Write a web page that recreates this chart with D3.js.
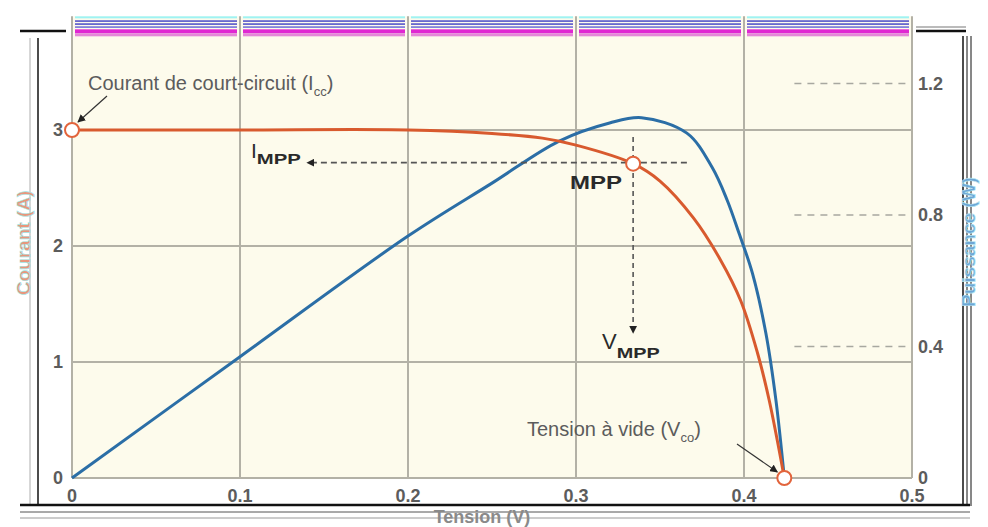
<!DOCTYPE html>
<html>
<head>
<meta charset="UTF-8">
<title>Courbe I-V et P-V</title>
<script src="https://cdn.jsdelivr.net/npm/d3@7"></script>
<style>
  body { margin: 0; background: #fff; }
  text { font-family: "Liberation Sans", Arial, Helvetica, sans-serif; }
</style>
</head>
<body>
<svg id="chart" width="988" height="527"></svg>
<script>
// tension (V) et courant (A)
var tensionI = [0, 0.1, 0.2, 0.25, 0.28, 0.3, 0.334, 0.35, 0.37, 0.386, 0.398, 0.408, 0.415, 0.424];
var courant  = [3.0, 3.0, 3.0, 2.97, 2.93, 2.87, 2.71, 2.56, 2.24, 1.88, 1.53, 1.08, 0.67, 0];

// tension (V) et puissance (W)
var tensionP  = [0, 0.1, 0.2, 0.25, 0.29, 0.32, 0.339, 0.366, 0.381, 0.39, 0.397, 0.405, 0.413, 0.419, 0.424];
var puissance = [0, 0.369, 0.736, 0.897, 1.025, 1.080, 1.096, 1.049, 0.945, 0.845, 0.745, 0.623, 0.441, 0.237, 0];

var ticksV = [0, 0.1, 0.2, 0.3, 0.4, 0.5];
var ticksI = [0, 1, 2, 3];
var ticksP = [0, 0.4, 0.8, 1.2];

// points remarquables
var icc = {v: 0, i: 3.0};
var mpp = {v: 0.334, i: 2.71};
var vco = {v: 0.424, i: 0};

var svg = d3.select("#chart");

var x = d3.scaleLinear().domain([0, 0.5]).range([72, 912]);
var yI = d3.scaleLinear().domain([0, 4]).range([478, 14]);
var yP = d3.scaleLinear().domain([0, 1.2]).range([478, 83.5]);

var gridColor = "#b3b1a6";
var orange = "#d85a2e";
var bleu = "#2b6ea6";
var gris = "#5c5c5c";

// fond
svg.append("rect")
  .attr("x", x(0)).attr("y", yI(3.98))
  .attr("width", x(0.5) - x(0)).attr("height", yI(0) - yI(3.98))
  .attr("fill", "#fdfbec");

// bandes parasites en haut (artefacts de l'image)
var bandes = [
  {dy: 0, h: 2, c: "#9ef3f3"},
  {dy: 4, h: 1.5, c: "#4a4ac8"},
  {dy: 7, h: 1.5, c: "#4a4ac8"},
  {dy: 10, h: 1.5, c: "#6a6ad8"},
  {dy: 13, h: 4, c: "#e027d2"},
  {dy: 17, h: 3, c: "#e487d8"}
];
var top0 = yI(3.98);
d3.pairs(ticksV).forEach(function(p) {
  bandes.forEach(function(b) {
    svg.append("rect")
      .attr("x", x(p[0]) + 3).attr("y", top0 + b.dy)
      .attr("width", x(p[1]) - x(p[0]) - 6).attr("height", b.h)
      .attr("fill", b.c);
  });
});

// cadre noir (artefacts)
var cadre = svg.append("g").attr("stroke", "#111").attr("fill", "none");
cadre.append("path").attr("d", "M20,31H66").attr("stroke-width", 2.5);
cadre.append("path").attr("d", "M916,31H966").attr("stroke-width", 2.5);
cadre.append("path").attr("d", "M916,27H966").attr("stroke-width", 1).attr("stroke", "#777");
cadre.append("path").attr("d", "M38,38V506").attr("stroke-width", 1.5);
cadre.append("path").attr("d", "M30,38V506").attr("stroke-width", 0.8).attr("stroke", "#999");
cadre.append("path").attr("d", "M963,36V506").attr("stroke-width", 1.5);
cadre.append("path").attr("d", "M967,36V506").attr("stroke-width", 1);
cadre.append("path").attr("d", "M971,36V506").attr("stroke-width", 1);
cadre.append("path").attr("d", "M20,505H970").attr("stroke-width", 2.5);
cadre.append("path").attr("d", "M20,512H970").attr("stroke-width", 1).attr("stroke", "#555");
cadre.append("path").attr("d", "M20,518H970").attr("stroke-width", 1).attr("stroke", "#999");

// grille
var grid = svg.append("g").attr("stroke", gridColor).attr("stroke-width", 2);
ticksV.forEach(function(t) {
  grid.append("line")
    .attr("x1", x(t)).attr("x2", x(t))
    .attr("y1", yI(3.98)).attr("y2", yI(0));
});
ticksI.forEach(function(t) {
  grid.append("line")
    .attr("x1", x(0)).attr("x2", x(0.5))
    .attr("y1", yI(t)).attr("y2", yI(t));
});

// graduations pointillées de la puissance
ticksP.filter(function(t) { return t > 0; }).forEach(function(t) {
  svg.append("line")
    .attr("x1", x(0.43)).attr("x2", x(0.5) - 4)
    .attr("y1", yP(t)).attr("y2", yP(t))
    .attr("stroke", "#a8a8a0").attr("stroke-width", 1.5)
    .attr("stroke-dasharray", "7,6");
});

// étiquettes des axes
var lab = svg.append("g").attr("fill", gris).attr("font-size", 18).attr("font-weight", "bold");
ticksI.forEach(function(t) {
  lab.append("text").attr("x", x(0) - 9).attr("y", yI(t) + 6)
    .attr("text-anchor", "end").text(t);
});
ticksP.forEach(function(t) {
  lab.append("text").attr("x", x(0.5) + 6).attr("y", yP(t) + 6)
    .text(t === 0 ? "0" : d3.format(".1f")(t));
});
ticksV.forEach(function(t) {
  lab.append("text").attr("x", x(t)).attr("y", 502)
    .attr("text-anchor", "middle")
    .text(t === 0 ? "0" : d3.format(".1f")(t));
});

// titres des axes
svg.append("text")
  .attr("transform", "translate(30,243) rotate(-90)")
  .attr("text-anchor", "middle").attr("font-size", 19).attr("font-weight", "bold")
  .attr("fill", "#e8967c").attr("stroke", "#9fe8e8").attr("stroke-width", 0.6)
  .text("Courant (A)");
svg.append("text")
  .attr("transform", "translate(975,242) rotate(-90)")
  .attr("text-anchor", "middle").attr("font-size", 19).attr("font-weight", "bold")
  .attr("fill", "#6ea6d6").attr("stroke", "#b8e6f0").attr("stroke-width", 0.6)
  .text("Puissance (W)");
svg.append("text")
  .attr("x", 482).attr("y", 523)
  .attr("text-anchor", "middle").attr("font-size", 18).attr("font-weight", "bold")
  .attr("fill", "#8a8a8a")
  .text("Tension (V)");

// courbes
var lisse = d3.curveCatmullRom.alpha(0.5);
var ligneI = d3.line()
  .x(function(d, k) { return x(tensionI[k]); })
  .y(function(d) { return yI(d); })
  .curve(lisse);
var ligneP = d3.line()
  .x(function(d, k) { return x(tensionP[k]); })
  .y(function(d) { return yP(d); })
  .curve(lisse);

svg.append("path").datum(puissance)
  .attr("d", ligneP).attr("fill", "none")
  .attr("stroke", bleu).attr("stroke-width", 3);
svg.append("path").datum(courant)
  .attr("d", ligneI).attr("fill", "none")
  .attr("stroke", orange).attr("stroke-width", 3);

// flèches
var defs = svg.append("defs");
defs.append("marker")
  .attr("id", "fleche").attr("viewBox", "0 0 10 10")
  .attr("refX", 9).attr("refY", 5)
  .attr("markerWidth", 8).attr("markerHeight", 8)
  .attr("markerUnits", "userSpaceOnUse")
  .attr("orient", "auto")
  .append("path").attr("d", "M0,0L10,5L0,10Z").attr("fill", "#222");

// tirets MPP
svg.append("line")
  .attr("x1", x(0.366)).attr("x2", x(0.14))
  .attr("y1", yI(mpp.i) - 1).attr("y2", yI(mpp.i) - 1)
  .attr("stroke", "#555").attr("stroke-width", 1.6)
  .attr("stroke-dasharray", "6,4")
  .attr("marker-end", "url(#fleche)");
svg.append("line")
  .attr("x1", x(mpp.v)).attr("x2", x(mpp.v))
  .attr("y1", yI(2.94)).attr("y2", yI(1.25))
  .attr("stroke", "#555").attr("stroke-width", 1.6)
  .attr("stroke-dasharray", "5,4")
  .attr("marker-end", "url(#fleche)");

// flèches des annotations
svg.append("line")
  .attr("x1", 107).attr("y1", 96).attr("x2", x(icc.v) + 6).attr("y2", yI(icc.i) - 8)
  .attr("stroke", "#333").attr("stroke-width", 1.2)
  .attr("marker-end", "url(#fleche)");
svg.append("line")
  .attr("x1", 737).attr("y1", 444).attr("x2", x(vco.v) - 7).attr("y2", yI(vco.i) - 6)
  .attr("stroke", "#333").attr("stroke-width", 1.2)
  .attr("marker-end", "url(#fleche)");

// points
svg.selectAll("circle.pt").data([icc, mpp, vco]).enter().append("circle")
  .attr("class", "pt")
  .attr("cx", function(d) { return x(d.v); })
  .attr("cy", function(d) { return yI(d.i); })
  .attr("r", 7)
  .attr("fill", "#fff").attr("stroke", "#e2643c").attr("stroke-width", 2);

// textes
var t1 = svg.append("text").attr("x", 88).attr("y", 90)
  .attr("font-size", 20).attr("fill", gris);
t1.append("tspan").text("Courant de court-circuit (I");
t1.append("tspan").attr("dy", 6).attr("font-size", 13).text("cc");
t1.append("tspan").attr("dy", -6).text(")");

var t2 = svg.append("text").attr("x", 527).attr("y", 436)
  .attr("font-size", 20).attr("fill", gris);
t2.append("tspan").text("Tension à vide (V");
t2.append("tspan").attr("dy", 6).attr("font-size", 13).text("co");
t2.append("tspan").attr("dy", -6).text(")");

svg.append("text").attr("x", 570).attr("y", 189)
  .attr("font-size", 19).attr("font-weight", "bold").attr("fill", "#2a2a2a")
  .attr("textLength", 52).attr("lengthAdjust", "spacingAndGlyphs")
  .text("MPP");

var t3 = svg.append("text").attr("x", 251).attr("y", 158)
  .attr("font-size", 21).attr("fill", "#2a2a2a");
t3.append("tspan").text("I");
t3.append("tspan").attr("dy", 6).attr("font-size", 14).attr("font-weight", "bold")
  .attr("textLength", 44).attr("lengthAdjust", "spacingAndGlyphs").text("MPP");

var t4 = svg.append("text").attr("x", 602).attr("y", 349)
  .attr("font-size", 22).attr("fill", "#2a2a2a");
t4.append("tspan").text("V");
t4.append("tspan").attr("dy", 9).attr("font-size", 15).attr("font-weight", "bold")
  .attr("textLength", 43).attr("lengthAdjust", "spacingAndGlyphs").text("MPP");
</script>
</body>
</html>
